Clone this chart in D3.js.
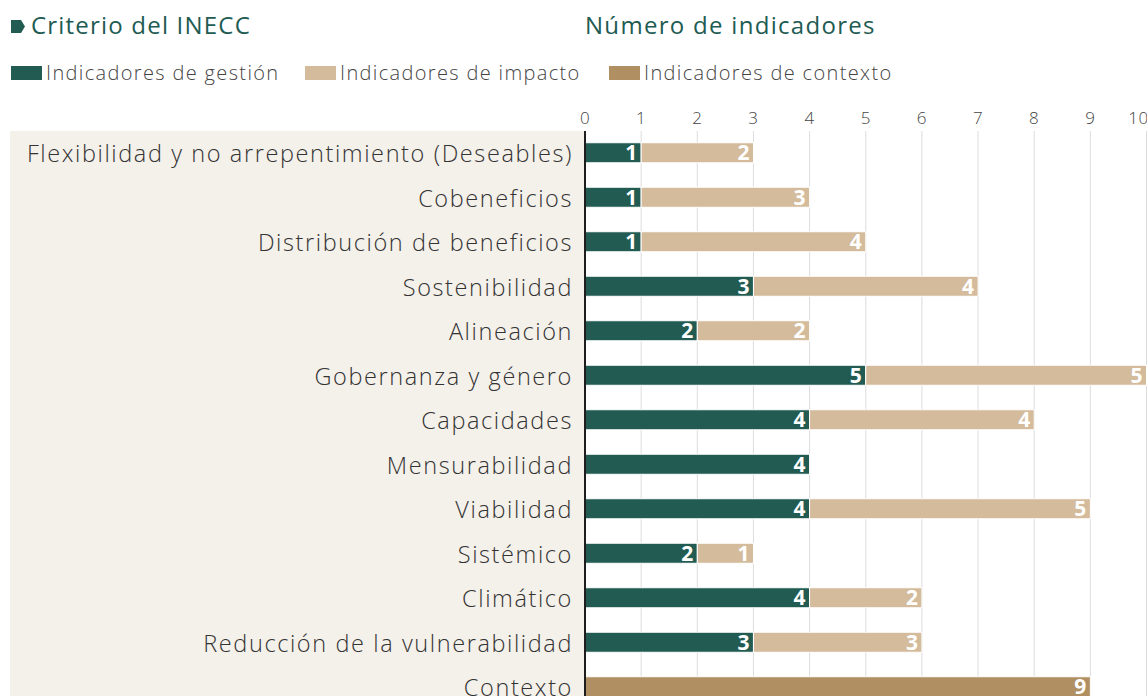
<!DOCTYPE html>
<html>
<head>
<meta charset="utf-8">
<script src="https://cdn.jsdelivr.net/npm/d3@7"></script>
<style>
  body { margin: 0; background: #fff; }
  svg { display: block; font-family: "Open Sans", sans-serif; }
</style>
</head>
<body>
<div id="chart"></div>
<script>
var categories = [
  "Flexibilidad y no arrepentimiento (Deseables)",
  "Cobeneficios",
  "Distribución de beneficios",
  "Sostenibilidad",
  "Alineación",
  "Gobernanza y género",
  "Capacidades",
  "Mensurabilidad",
  "Viabilidad",
  "Sistémico",
  "Climático",
  "Reducción de la vulnerabilidad",
  "Contexto"
];
var gestion  = [1, 1, 1, 3, 2, 5, 4, 4, 4, 2, 4, 3, 0];
var impacto  = [2, 3, 4, 4, 2, 5, 4, 0, 5, 1, 2, 3, 0];
var contexto = [0, 0, 0, 0, 0, 0, 0, 0, 0, 0, 0, 0, 9];
var ticks = [0, 1, 2, 3, 4, 5, 6, 7, 8, 9, 10];
var seriesNames = ["Indicadores de gestión", "Indicadores de impacto", "Indicadores de contexto"];

var colors = ["#215b52", "#d3bb9c", "#b08f62"];
var width = 1147, height = 696;

var svg = d3.select("#chart").append("svg")
  .attr("width", width)
  .attr("height", height);

var xScale = d3.scaleLinear().domain([0, 10]).range([585, 1146.5]);
var yScale = d3.scaleBand()
  .domain(categories)
  .range([130.5, 130.5 + 13 * 44.5])
  .paddingInner(0.55)
  .paddingOuter(0.275);

// label panel
svg.append("rect")
  .attr("x", 10).attr("y", 131)
  .attr("width", 575).attr("height", height - 131)
  .attr("fill", "#f4f0ea");

// gridlines + tick labels
svg.append("g").selectAll("line")
  .data(ticks.slice(1))
  .enter().append("line")
  .attr("x1", d => xScale(d)).attr("x2", d => xScale(d))
  .attr("y1", 131).attr("y2", height)
  .attr("stroke", "#dcdcdc").attr("stroke-width", 1);

svg.append("g").selectAll("text")
  .data(ticks)
  .enter().append("text")
  .attr("x", d => xScale(d) + (d == 10 ? -8 : 0))
  .attr("y", 124)
  .attr("text-anchor", "middle")
  .attr("font-size", 17)
  .attr("font-weight", 300)
  .attr("letter-spacing", 0.5)
  .attr("fill", "#444")
  .text(d => d);

// stacked bars
var rows = categories.map(function(c, i) {
  return { cat: c, vals: [gestion[i], impacto[i], contexto[i]] };
});

rows.forEach(function(r) {
  var x0 = 0;
  r.vals.forEach(function(v, k) {
    if (v > 0) {
      svg.append("rect")
        .attr("x", xScale(x0))
        .attr("y", yScale(r.cat))
        .attr("width", xScale(x0 + v) - xScale(x0))
        .attr("height", yScale.bandwidth())
        .attr("fill", colors[k])
        .attr("stroke", "#fff")
        .attr("stroke-width", 1);
      svg.append("text")
        .attr("x", xScale(x0 + v) - 4)
        .attr("y", yScale(r.cat) + yScale.bandwidth() / 2)
        .attr("dy", "0.36em")
        .attr("text-anchor", "end")
        .attr("font-size", 21)
        .attr("font-weight", 700)
        .attr("fill", "#fff")
        .text(v);
    }
    x0 += v;
  });
});

// axis line
svg.append("line")
  .attr("x1", 585).attr("x2", 585)
  .attr("y1", 131).attr("y2", height)
  .attr("stroke", "#1e1e1e").attr("stroke-width", 2);

// category labels
svg.append("g").selectAll("text")
  .data(categories)
  .enter().append("text")
  .attr("x", 573)
  .attr("y", d => yScale(d) + yScale.bandwidth() / 2 + 1)
  .attr("dy", "0.36em")
  .attr("text-anchor", "end")
  .attr("font-size", 23.5)
  .attr("font-weight", 300)
  .attr("letter-spacing", 1.6)
  .attr("fill", "#333")
  .text(d => d);

// titles
svg.append("path")
  .attr("d", "M11,20 L21,20 L25,26.5 L21,33 L11,33 Z")
  .attr("fill", "#215b52");
svg.append("text")
  .attr("x", 31).attr("y", 34)
  .attr("font-size", 24).attr("font-weight", 500)
  .attr("letter-spacing", 1.2)
  .attr("fill", "#215b52")
  .text("Criterio del INECC");
svg.append("text")
  .attr("x", 585).attr("y", 34)
  .attr("font-size", 24).attr("font-weight", 500)
  .attr("letter-spacing", 1.3)
  .attr("fill", "#215b52")
  .text("Número de indicadores");

// legend
var legendX = [11, 305, 609];
var legend = svg.append("g").selectAll("g")
  .data(seriesNames)
  .enter().append("g")
  .attr("transform", (d, i) => "translate(" + legendX[i] + ",0)");
legend.append("rect")
  .attr("x", 0).attr("y", 66)
  .attr("width", 31).attr("height", 14)
  .attr("fill", (d, i) => colors[i]);
legend.append("text")
  .attr("x", 35).attr("y", 73)
  .attr("dy", "0.36em")
  .attr("font-size", 20).attr("font-weight", 300)
  .attr("letter-spacing", 1.35)
  .attr("fill", "#444")
  .text(d => d);
</script>
</body>
</html>
